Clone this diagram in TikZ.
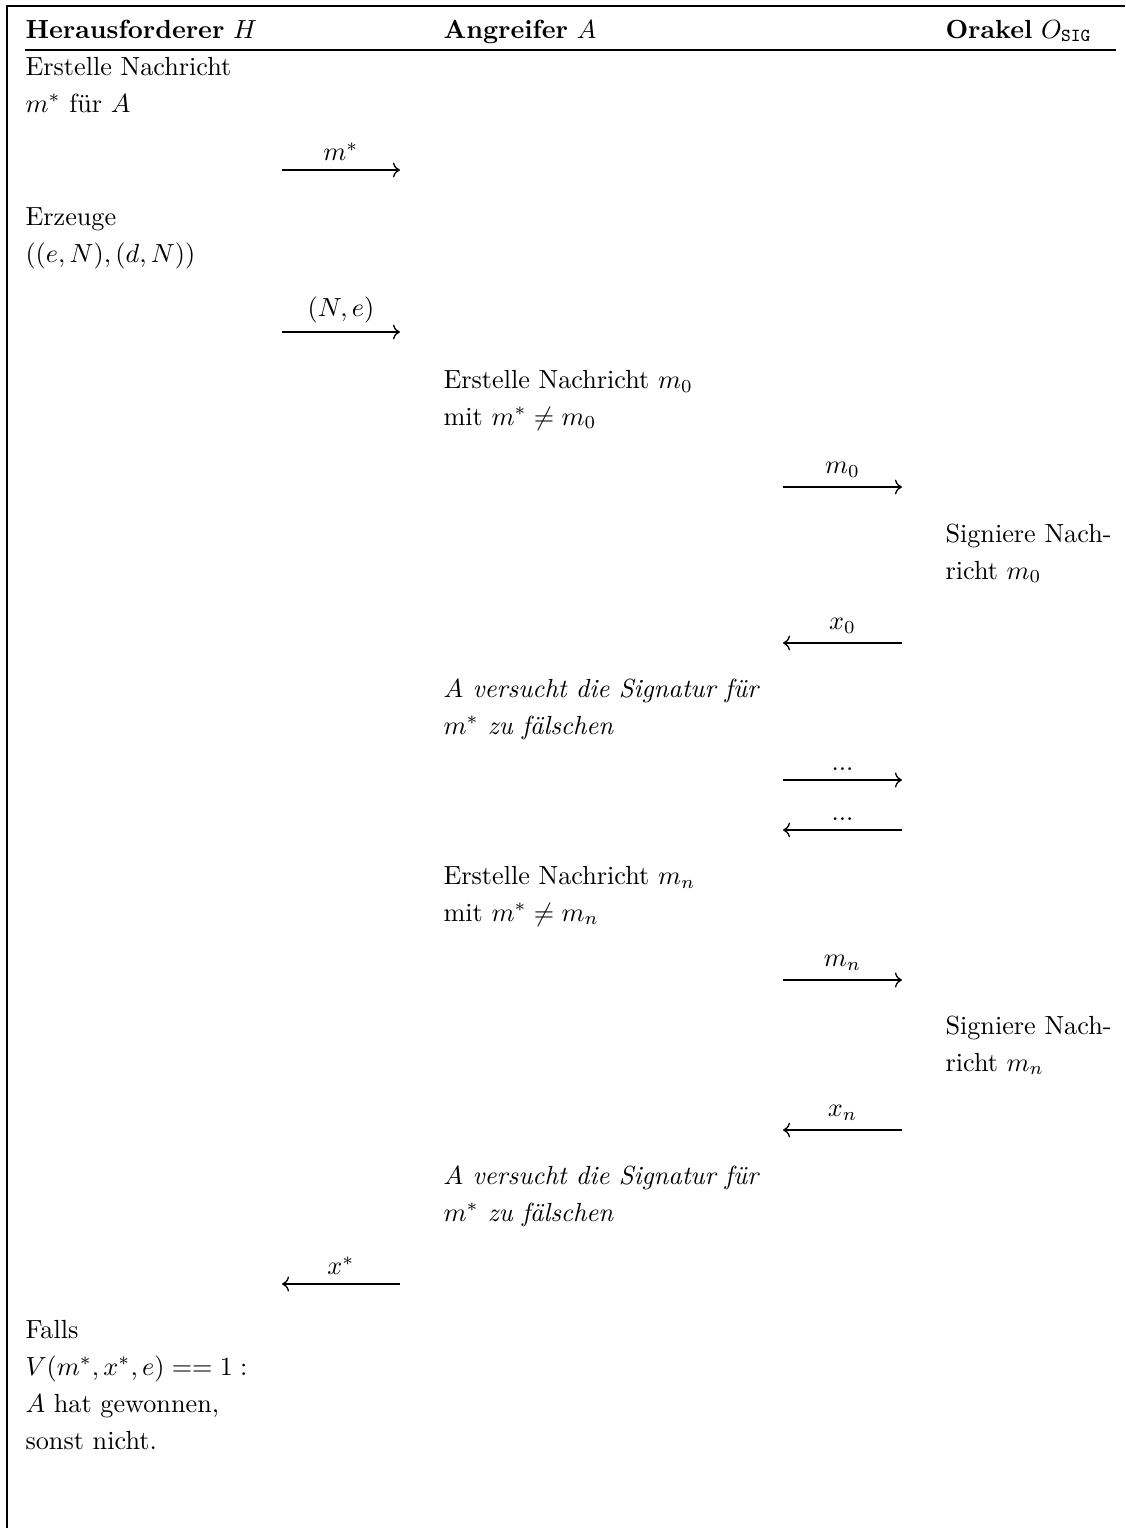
\documentclass[tikz,border=0pt]{standalone}
\usepackage{fontspec}
\usetikzlibrary{arrows.meta}

\begin{document}
\begin{tikzpicture}[
    x=0.3817pt, y=-0.3817pt,
    cell/.style={anchor=base west, inner sep=0pt, align=left, font=\fontsize{10pt}{14.1pt}\selectfont},
    note/.style={cell, font=\fontsize{10pt}{14.1pt}\selectfont\itshape},
    msg/.style={->, line width=0.5pt},
    lbl/.style={above, inner sep=3.3pt, font=\fontsize{10pt}{12pt}\selectfont},
    rule/.style={line width=0.6pt}
]
    \useasboundingbox (0,0) rectangle (1125,1528);

    % frame and header
    \draw[rule] (7,1528) -- (7,6) -- (1125,6);
    \node[cell] (headH) at (25,38) {\textbf{Herausforderer} $H$};
    \node[cell] (headA) at (443,38) {\textbf{Angreifer} $A$};
    \node[cell] (headO) at (945,38) {\textbf{Orakel} $O_{\mathtt{SIG}}$};
    \draw[rule] (25,50) -- (1116,50);

    % Herausforderer (nodes sit on the baseline of their last line)
    \node[cell] (ch1) at (25,112) {Erstelle Nachricht\\$m^*$ für $A$};
    \node[cell] (ch2) at (25,262) {Erzeuge\\$((e,N),(d,N))$};
    \node[cell] (ch3) at (25,1449) {Falls\\$V(m^*,x^*,e) == 1:$\\$A$ hat gewonnen,\\sonst nicht.};

    % Angreifer
    \node[cell] (ca1) at (443,425) {Erstelle Nachricht $m_0$\\mit $m^* \neq m_0$};
    \node[note] (ca2) at (443,734) {$A$ versucht die Signatur für\\$m^*$ zu fälschen};
    \node[cell] (ca3) at (443,921) {Erstelle Nachricht $m_n$\\mit $m^* \neq m_n$};
    \node[note] (ca4) at (443,1221) {$A$ versucht die Signatur für\\$m^*$ zu fälschen};

    % Orakel
    \node[cell] (co1) at (945,579) {Signiere Nach-\\richt $m_0$};
    \node[cell] (co2) at (945,1071) {Signiere Nach-\\richt $m_n$};

    % message ends
    \coordinate (ms-l) at (282,170);  \coordinate (ms-r) at (400,170);
    \coordinate (ne-l) at (282,332);  \coordinate (ne-r) at (400,332);
    \coordinate (m0-l) at (783,487);  \coordinate (m0-r) at (902,487);
    \coordinate (x0-l) at (783,643);  \coordinate (x0-r) at (902,643);
    \coordinate (d1-l) at (783,780);  \coordinate (d1-r) at (902,780);
    \coordinate (d2-l) at (783,830);  \coordinate (d2-r) at (902,830);
    \coordinate (mn-l) at (783,980);  \coordinate (mn-r) at (902,980);
    \coordinate (xn-l) at (783,1130); \coordinate (xn-r) at (902,1130);
    \coordinate (xs-l) at (282,1284); \coordinate (xs-r) at (400,1284);

    \draw[msg] (ms-l) -- node[lbl] {$m^*$} (ms-r);
    \draw[msg] (ne-l) -- node[lbl] {$(N,e)$} (ne-r);
    \draw[msg] (m0-l) -- node[lbl] {$m_0$} (m0-r);
    \draw[msg] (x0-r) -- node[lbl] {$x_0$} (x0-l);
    \draw[msg] (d1-l) -- node[lbl] {$...$} (d1-r);
    \draw[msg] (d2-r) -- node[lbl] {$...$} (d2-l);
    \draw[msg] (mn-l) -- node[lbl] {$m_n$} (mn-r);
    \draw[msg] (xn-r) -- node[lbl] {$x_n$} (xn-l);
    \draw[msg] (xs-r) -- node[lbl] {$x^*$} (xs-l);
\end{tikzpicture}
\end{document}
